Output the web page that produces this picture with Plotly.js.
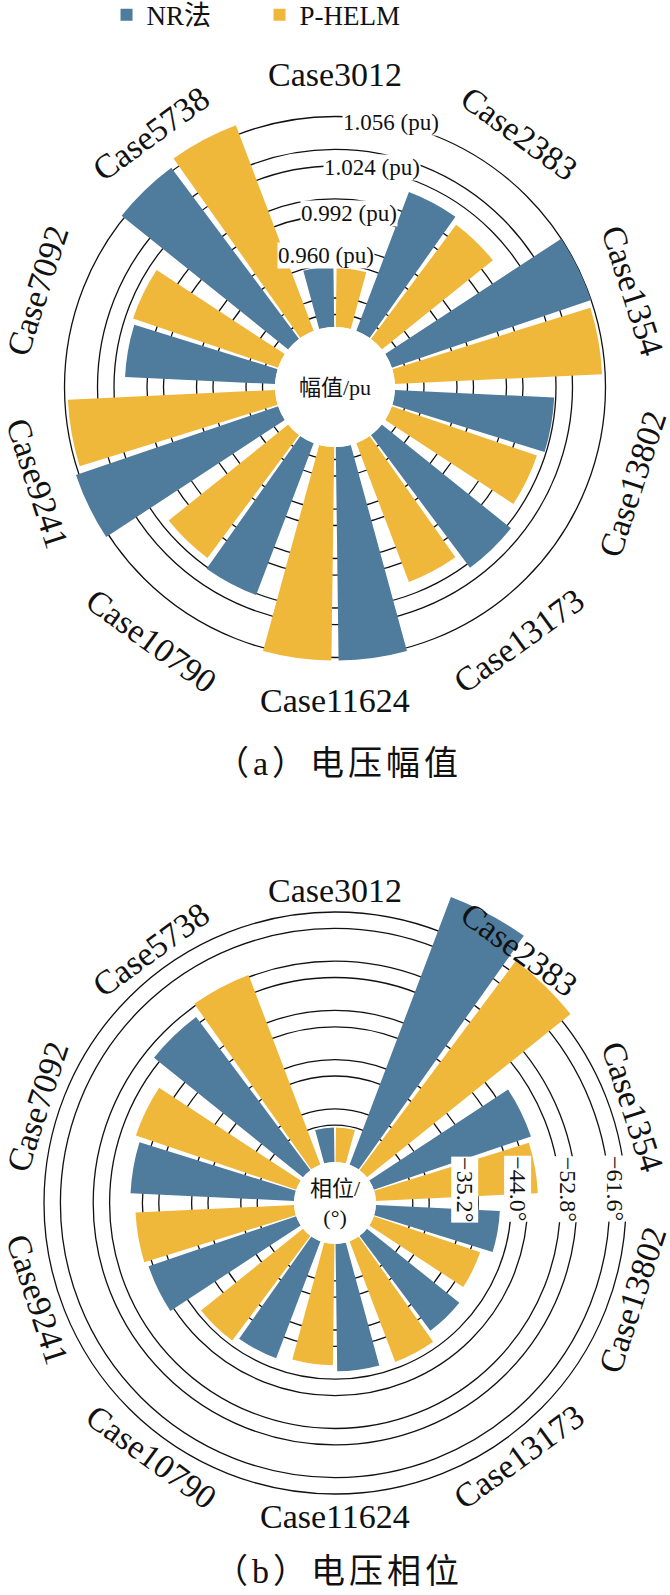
<!DOCTYPE html>
<html><head><meta charset="utf-8">
<script src="https://cdn.plot.ly/plotly-3.0.1.min.js"></script>
<style>html,body{margin:0;padding:0;background:#fff}</style>
</head><body><div id="chart" style="width:670px;height:1595px"></div>
<script>
// ---------------- data ----------------
const categories = ['Case3012','Case2383','Case1354','Case13802','Case13173','Case11624','Case10790','Case9241','Case7092','Case5738'];
const seriesNames = ['NR法','P-HELM'];
const magnitudeNR = [0.959, 1.016, 1.056, 1.023, 1.027, 1.058, 1.025, 1.058, 1.017, 1.058];
const magnitudePH = [0.958, 1.012, 1.054, 1.019, 1.016, 1.058, 1.019, 1.054, 1.019, 1.062];
const phaseNR = [-26.0, -71.0, -49.5, -42.0, -41.0, -42.6, -42.2, -47.7, -49.1, -54.0];
const phasePH = [-26.0, -66.5, -48.8, -39.9, -42.9, -41.5, -43.2, -48.2, -50.1, -56.1];
const magnitudeTicks = [0.960, 0.992, 1.024, 1.056];
const phaseTicks = [-35.2, -44.0, -52.8, -61.6];
const magnitudeTickText = magnitudeTicks.map(v => v.toFixed(3) + ' (pu)');
const phaseTickText = phaseTicks.map(v => '\u2212' + Math.abs(v).toFixed(1) + '\u00b0');
const captions = ['（a）电压幅值', '（b）电压相位'];
const centerTitles = ['幅值/pu', '相位/<br>(°)'];

// ---------------- style / geometry ----------------
const W = 670, H = 1595;
const colors = ['#4f7b9d', '#f0b83a'];
const serif = 'Liberation Serif, Times New Roman, Noto Sans CJK SC, serif';
const barWidth = 14.5, pairGap = 1.5, catStep = 36;
const labelR = 313;
const geo = [
  {cx: 335, cy: 387, R: 286.5, hole: 60, t0px: 122, stepPx: 49.5,
   tickAngles: [-4, 4.5, 9.5, 12], tickDr: [10, 3, 2, 0], tickRot: 0, tickSize: 23},
  {cx: 335, cy: 1203, R: 335, hole: 41, t0px: 127, stepPx: 49.2,
   tickAngles: [84, 85.6, 86.6, 87.1], tickDr: [3, 7, 7.5, 5.5], tickRot: 90, tickSize: 24}
];

const thetas = categories.map((c, i) => i * catStep);
const traces = [];
const annotations = [];
const layout = {
  width: W, height: H, margin: {l: 0, r: 0, t: 0, b: 0, autoexpand: false},
  paper_bgcolor: '#fff', plot_bgcolor: '#fff', showlegend: true,
  legend: {orientation: 'h', x: 0.159, xanchor: 'left', y: 1.0058, yanchor: 'top',
           font: {family: serif, size: 27, color: '#111'}, entrywidth: 108, entrywidthmode: 'pixels',
           itemwidth: 30, bgcolor: 'rgba(0,0,0,0)', tracegroupgap: 0},
  annotations: annotations
};

function toPaper(px, py) { return {x: px / W, y: 1 - py / H}; }

const panels = [
  {nr: magnitudeNR, ph: magnitudePH, ticks: magnitudeTicks, tickText: magnitudeTickText, sign: 1},
  {nr: phaseNR, ph: phasePH, ticks: phaseTicks, tickText: phaseTickText, sign: -1}
];

panels.forEach((p, k) => {
  const g = geo[k];
  const id = k === 0 ? 'polar' : 'polar2';
  const tv = p.ticks.map(v => v * p.sign);           // plotted magnitudes
  const step = tv[1] - tv[0];
  const perPx = step / g.stepPx;
  const lo = tv[0] - (g.t0px - g.hole) * perPx;
  const hi = tv[0] + (g.R - g.t0px) * perPx;
  const majors = [tv[0] - step].concat(tv);
  const gridVals = [];
  majors.forEach(v => { gridVals.push(v); gridVals.push(v + step / 3); });
  const rpx = v => g.hole + (v - lo) / (hi - lo) * (g.R - g.hole);

  [p.nr, p.ph].forEach((vals, s) => {
    traces.push({
      type: 'barpolar', subplot: id, name: seriesNames[s],
      r: vals.map(v => v * p.sign - lo), base: lo, theta: thetas,
      width: barWidth, offset: s === 0 ? -(pairGap / 2 + barWidth) : pairGap / 2,
      marker: {color: colors[s], line: {width: 0}},
      showlegend: k === 0, legendgroup: 's' + s, hoverinfo: 'skip'
    });
  });

  layout[id] = {
    domain: {x: [(g.cx - g.R) / W, (g.cx + g.R) / W], y: [(H - g.cy - g.R) / H, (H - g.cy + g.R) / H]},
    hole: g.hole / g.R, bgcolor: 'rgba(0,0,0,0)', barmode: 'overlay',
    radialaxis: {range: [lo, hi], tickmode: 'array', tickvals: gridVals, showticklabels: false,
                 ticks: '', showline: false, gridcolor: '#111', gridwidth: 1.3, layer: 'below traces'},
    angularaxis: {direction: 'clockwise', rotation: 90, thetaunit: 'degrees', showgrid: false,
                  showline: false, showticklabels: false, ticks: '', layer: 'below traces'}
  };

  // category labels, tangential
  categories.forEach((c, i) => {
    const th = thetas[i];
    const a = th * Math.PI / 180;
    let rot = th;
    if (th > 90 && th < 270) rot = th - 180;
    else if (th >= 270) rot = th - 360;
    const pp = toPaper(g.cx + labelR * Math.sin(a), g.cy - labelR * Math.cos(a));
    annotations.push({xref: 'paper', yref: 'paper', x: pp.x, y: pp.y, xanchor: 'center', yanchor: 'middle',
      text: c, showarrow: false, textangle: rot, font: {family: serif, size: 34, color: '#111'}});
  });

  // radial tick labels
  tv.forEach((v, i) => {
    const a = g.tickAngles[i] * Math.PI / 180;
    const rr = rpx(v) + g.tickDr[i];
    const pp = toPaper(g.cx + rr * Math.sin(a), g.cy - rr * Math.cos(a));
    annotations.push({xref: 'paper', yref: 'paper', x: pp.x, y: pp.y, xanchor: 'center', yanchor: 'middle',
      text: p.tickText[i], showarrow: false, textangle: g.tickRot, bgcolor: '#fff', borderpad: 0,
      font: {family: serif, size: g.tickSize, color: '#111'}});
  });

  // centre title
  const cp = toPaper(g.cx, g.cy);
  annotations.push({xref: 'paper', yref: 'paper', x: cp.x, y: cp.y, xanchor: 'center', yanchor: 'middle',
    text: centerTitles[k], showarrow: false, font: {family: serif, size: 22, color: '#111'}});
});

// captions
[763, 1571].forEach((py, k) => {
  const pp = toPaper(339, py);
  annotations.push({xref: 'paper', yref: 'paper', x: pp.x, y: pp.y, xanchor: 'center', yanchor: 'middle',
    text: '<span style="letter-spacing:4px">' + captions[k] + '</span>', showarrow: false,
    font: {family: serif, size: 34, color: '#111'}});
});

Plotly.newPlot('chart', traces, layout, {displayModeBar: false, staticPlot: true});
</script></body></html>
